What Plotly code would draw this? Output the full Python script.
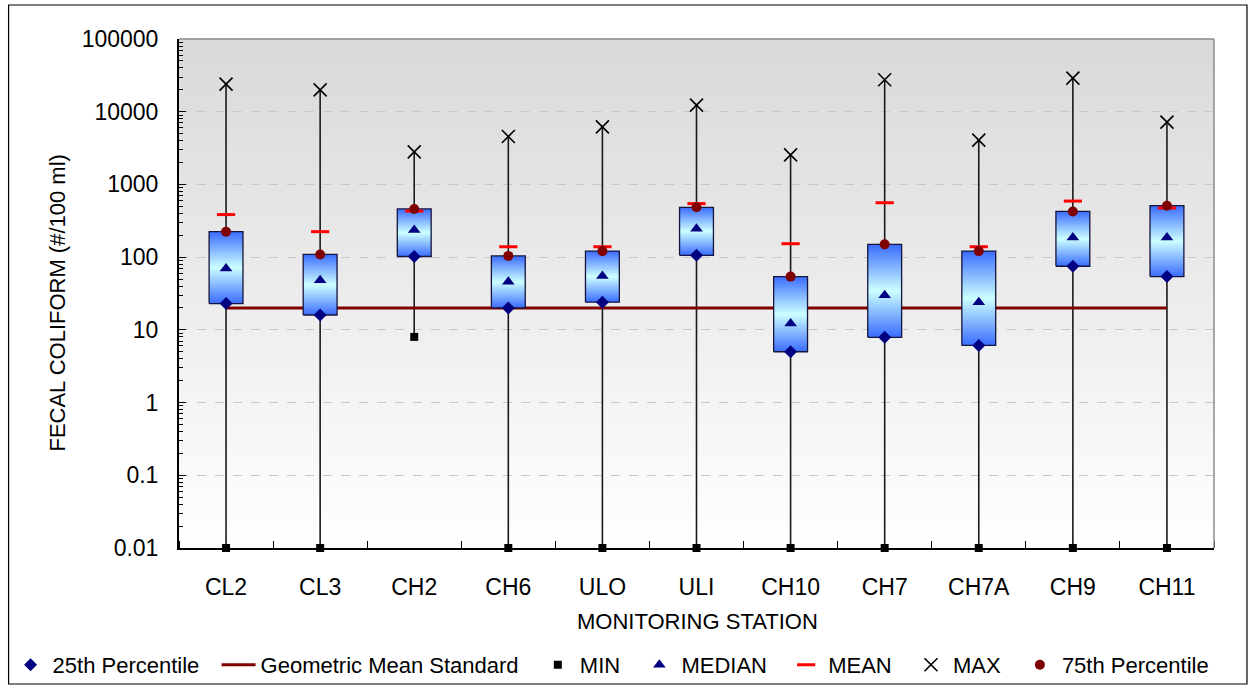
import base64
import plotly.graph_objects as go

# ---------------- data ----------------
stations = ["CL2", "CL3", "CH2", "CH6", "ULO", "ULI", "CH10", "CH7", "CH7A", "CH9", "CH11"]
p25 = [23, 16, 102, 20, 24, 106, 5.0, 7.9, 6.1, 75, 54]
p75 = [224, 109, 460, 104, 121, 485, 54, 150, 121, 425, 510]
median = [70, 48, 236, 46, 55, 246, 12.2, 30, 24, 187, 187]
mean = [385, 224, 430, 139, 139, 545, 153, 560, 139, 590, 474]
vmin = [0.01, 0.01, 8, 0.01, 0.01, 0.01, 0.01, 0.01, 0.01, 0.01, 0.01]
vmax = [24000, 20000, 2800, 4560, 6190, 12300, 2550, 27500, 4060, 29000, 7180]
gm_standard = 20
ytickvals = [0.01, 0.1, 1, 10, 100, 1000, 10000, 100000]
yticktext = ["0.01", "0.1", "1", "10", "100", "1000", "10000", "100000"]

# ---------------- layout constants ----------------
W, H = 1250, 685
L, R, T, B = 178.5, 1214, 39, 548
FONT = "Liberation Sans, Arial, sans-serif"
NAVY = "#000080"
DARKRED = "#800000"
BOX_HALF = 0.18
PAD = "\u00a0\u00a0"

idx = list(range(len(stations)))

fig = go.Figure()

# whiskers
wx, wy = [], []
for i in idx:
    wx += [i, i, None]
    wy += [vmin[i], vmax[i], None]
fig.add_trace(go.Scatter(x=wx, y=wy, mode="lines", line=dict(color="#1a1a1a", width=1.6),
                         showlegend=False, hoverinfo="skip"))

# geometric mean standard line
fig.add_trace(go.Scatter(x=[idx[0], idx[-1]], y=[gm_standard, gm_standard], mode="lines",
                         line=dict(color=DARKRED, width=3), name="Geometric Mean Standard" + PAD,
                         legendrank=2))

# boxes with gradient
for i in idx:
    fig.add_trace(go.Scatter(
        x=[i - BOX_HALF, i + BOX_HALF, i + BOX_HALF, i - BOX_HALF, i - BOX_HALF],
        y=[p25[i], p25[i], p75[i], p75[i], p25[i]],
        mode="lines", fill="toself",
        fillgradient=dict(type="vertical",
                          colorscale=[[0, "#3a6cff"], [0.5, "#ccffff"], [1, "#3a6cff"]]),
        line=dict(color="#14143c", width=1.3),
        showlegend=False, hoverinfo="skip"))

# markers
fig.add_trace(go.Scatter(x=idx, y=p25, mode="markers", name="25th Percentile" + PAD,
                         marker=dict(symbol="diamond", size=10, color=NAVY), legendrank=1))
fig.add_trace(go.Scatter(x=idx, y=vmin, mode="markers", name="MIN" + PAD, cliponaxis=False,
                         marker=dict(symbol="square", size=8, color="black"), legendrank=3))
fig.add_trace(go.Scatter(x=idx, y=median, mode="markers", name="MEDIAN" + PAD,
                         marker=dict(symbol="triangle-up", size=11, color=NAVY), legendrank=4))
fig.add_trace(go.Scatter(x=idx, y=mean, mode="markers", name="MEAN" + PAD,
                         marker=dict(symbol="line-ew", size=13, color="red",
                                     line=dict(color="red", width=3)), legendrank=5))
fig.add_trace(go.Scatter(x=idx, y=vmax, mode="markers", name="MAX" + PAD,
                         marker=dict(symbol="x-thin", size=13, color="black",
                                     line=dict(color="black", width=1.6)), legendrank=6))
fig.add_trace(go.Scatter(x=idx, y=p75, mode="markers", name="75th Percentile",
                         marker=dict(symbol="circle", size=10, color=DARKRED), legendrank=7))

# background gradient image
svg = ('<svg xmlns="http://www.w3.org/2000/svg" width="10" height="100" viewBox="0 0 10 100" '
       'preserveAspectRatio="none"><defs><linearGradient id="g" x1="0" y1="0" x2="0" y2="1">'
       '<stop offset="0" stop-color="#d9d9d9"/><stop offset="1" stop-color="#ffffff"/>'
       '</linearGradient></defs><rect width="10" height="100" fill="url(#g)"/></svg>')
src = "data:image/svg+xml;base64," + base64.b64encode(svg.encode()).decode()

pw, ph = R - L, B - T


def px(x):
    return (x - L) / pw


def py(y):
    return (B - y) / ph


fig.update_layout(
    width=W, height=H,
    margin=dict(l=L, r=W - R, t=T, b=H - B, autoexpand=False),
    paper_bgcolor="white",
    plot_bgcolor="rgba(0,0,0,0)",
    font=dict(family=FONT, color="black"),
    images=[dict(source=src, xref="paper", yref="paper", x=0, y=1, sizex=1, sizey=1,
                 xanchor="left", yanchor="top", sizing="stretch", layer="below")],
    shapes=[
        dict(type="line", xref="paper", yref="paper", x0=0, x1=1, y0=1, y1=1,
             line=dict(color="#8c8c8c", width=1.5)),
        dict(type="line", xref="paper", yref="paper", x0=1, x1=1, y0=0, y1=1,
             line=dict(color="#8c8c8c", width=1.5)),
        dict(type="rect", xref="paper", yref="paper", x0=px(8), x1=px(1247),
             y0=py(684), y1=py(5), line=dict(color="black", width=1.2)),
    ],
    annotations=[
        dict(text="MONITORING STATION", xref="paper", yref="paper", x=px(697), y=py(621),
             xanchor="center", yanchor="middle", showarrow=False, font=dict(size=22)),
        dict(text="FECAL COLIFORM (#/100 ml)", xref="paper", yref="paper", x=px(56), y=py(303),
             xanchor="center", yanchor="middle", showarrow=False, textangle=-90,
             font=dict(size=22)),
    ],
    showlegend=True,
    legend=dict(orientation="h", x=px(8), y=py(665), xanchor="left", yanchor="middle",
                font=dict(size=22, family=FONT), bgcolor="rgba(0,0,0,0)",
                itemwidth=34, tracegroupgap=0),
    xaxis=dict(
        range=[-0.5, len(stations) - 0.5],
        tickvals=idx, ticktext=stations, ticks="",
        tickfont=dict(size=23), ticklabelstandoff=17,
        showline=True, linecolor="black", linewidth=2,
        showgrid=False, zeroline=False,
        minor=dict(ticks="inside", ticklen=7, tickcolor="black", tickwidth=1.2,
                   tick0=0.5, dtick=1, showgrid=False),
    ),
    yaxis=dict(
        type="log", range=[-2, 5],
        tickvals=ytickvals, ticktext=yticktext,
        ticks="inside", ticklen=7, tickcolor="black", tickwidth=1.2,
        tickfont=dict(size=23), ticklabelstandoff=14,
        showline=True, linecolor="black", linewidth=2,
        showgrid=True, gridcolor="#c8c8c8", griddash="dash", gridwidth=1,
        zeroline=False,
        minor=dict(ticks="inside", ticklen=4, tickcolor="black", tickwidth=1,
                   dtick="D1", showgrid=False),
    ),
)

fig.write_html("out.html")
